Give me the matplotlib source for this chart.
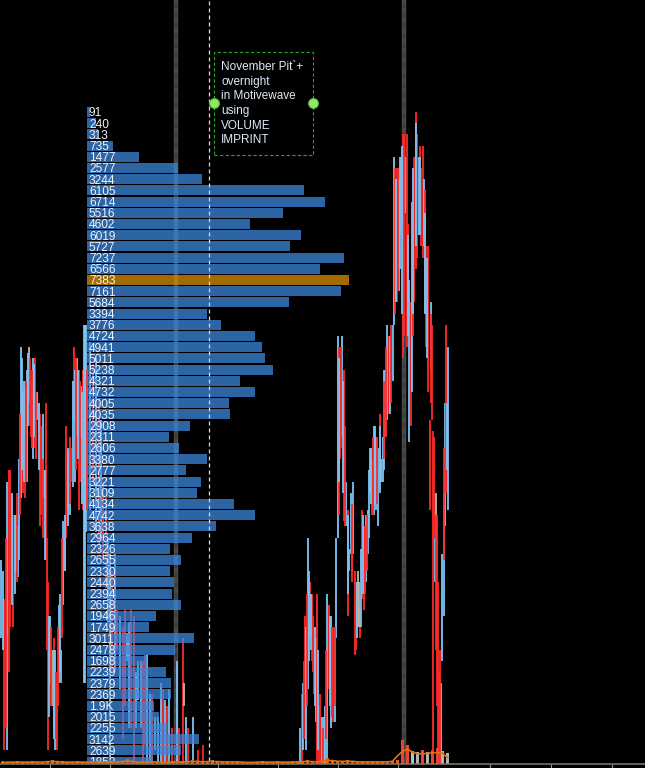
import numpy as np
import matplotlib
matplotlib.use("Agg")
import matplotlib.pyplot as plt
from matplotlib.patches import Rectangle

# -------------------------------------------------
# Volume imprint (profile), top price row first
# -------------------------------------------------
profile_vol = [91, 240, 313, 735, 1477, 2577, 3244, 6105, 6714, 5516,
               4602, 6019, 5727, 7237, 6566, 7383, 7161, 5684, 3394, 3776,
               4724, 4941, 5011, 5238, 4321, 4732, 4005, 4035, 2908, 2311,
               2606, 3380, 2777, 3221, 3109, 4134, 4742, 3638, 2964, 2326,
               2655, 2330, 2440, 2394, 2658, 1946, 1749, 3011, 2478, 1698,
               2239, 2379, 2369, 1900, 2015, 2255, 3142, 2639, 1852]
# rows where the platform shortens the number
profile_short = {53: "1.9K"}

# -------------------------------------------------
# Price bars, low..high in price rows (bottom row = 0)
# day session (pit)
# -------------------------------------------------
pit_x = [1, 4, 7, 10, 13, 16, 18, 19, 21, 23, 25, 27, 29, 31, 33, 35, 37, 38.5,
         40, 42.5, 44, 46, 48, 50, 52, 53.5, 55, 57, 59, 61, 63, 64.5, 66, 67.5,
         69.5, 71, 72.5, 74, 75, 77, 79, 81, 83, 83.7, 84.5, 85.5, 87, 90, 93,
         96, 99, 101, 103, 106, 108, 110, 112, 115, 117, 120, 122.5, 125, 127,
         128.5, 131, 133.5, 136, 138, 141, 143, 145, 147, 150, 152, 155, 158,
         161, 163, 165, 167, 169, 172, 177, 178.5, 182.5, 184, 186, 188, 192.5,
         198, 203,
         3, 5.5, 8.5, 11.5, 14.5, 17, 20, 22, 24, 26, 28, 30, 32, 34, 36, 39,
         41, 43, 45, 47, 49, 51, 54, 56, 58, 60, 62, 65, 68, 70, 73, 76, 78, 80, 82]
pit_low = [11, 1, 1, 12, 12, 17, 16.5, 18, 23.5, 24, 23.5, 25, 32, 29, 27, 28, 30.5, 28,
           21, 23.5, 23.5, 18, 1, 7, 5, 3, 1, 1, 7, 7, 14, 17, 20, 22.5,
           22, 25, 24.5, 30.5, 25, 29, 22.5, 29, 22.5, 7, 7, 20.5, 22.5, 22.5, 25,
           20.5, 18.5, 20, 18, 15.5, 12.5, -1, 8, 8, 10, 6.5, 2, 5, 9,
           3, 3, -1, 3, 5.5, 3, -1, 1.5, -1, -1, -1, 1, -1,
           -1, -1, -1, -1, -1, -1, -1, -1, -1, 5, -1, -1, -1,
           -1, -1,
           10, 3, 8, 14, 15, 16, 22, 26, 25, 25, 30, 30, 28, 29, 27, 26,
           22, 20, 18, 10, 4, 5, 2, 2, 5, 8, 11, 17, 21, 23, 27, 26, 27, 25, 23]
pit_high = [18, 14.5, 25, 26, 22, 22, 21, 27, 37, 33, 33.5, 35, 37, 34, 36, 36, 33, 32,
            31, 31, 26, 32, 16, 13, 10, 11, 10, 7, 14, 10, 21.5, 20, 30, 27.5,
            28, 28, 27, 37, 35, 36, 35, 33.5, 35, 39, 39, 39, 35, 37.5, 35.5,
            36, 32.5, 30.5, 25, 23.5, 20, 18.5, 17, 18.5, 13.5, 13, 12, 13.5, 11.5,
            12.5, 13.5, 13, 8, 9, 9, 9, 9.5, 9.5, 6, 6, 4, 4,
            7, 6.5, 5.5, 5, 6.5, 3, 9, 3, 11, 7, 4, 3, 4,
            1, 1.5,
            17, 20, 26, 24, 22, 24, 31, 36, 34, 34, 36.5, 36, 35, 35.5, 33, 32,
            30, 27, 26, 20, 13, 12, 10, 8, 12, 15, 20, 22, 28, 29, 34, 36, 35, 34, 33]
pit_side = ("brbrrbbbbrrbtrbrbrrbbrrbtrbrbbbrrrbrbrbbrbrbbbrbrbrbrrbtrbrbrrbbrrbbbrrbbrbbbrbrbrbrrtbrbrr"
            "brrbbrrbbrbrrbrbrrbrbrbrrbrbbrbrbrb")

# overnight session
globex_x = [302, 303, 305, 306, 308, 310, 312, 314, 316, 317, 319, 322, 324, 327,
            328.5, 331, 333, 334.5, 336, 337.5, 340, 342, 344, 346, 347.5, 349,
            350.5, 351.5, 353, 354.5, 358, 360, 362, 364, 366, 368, 370, 372, 374,
            376, 378, 379.5, 381, 382.5, 383.5, 385, 387, 388.5, 392.5, 394, 397,
            399, 401, 403, 405, 406.5, 407.5, 409, 410.5, 411.5, 414, 415.5, 417,
            418.5, 419.5, 421, 422.5, 423.5, 424.5, 426, 428, 429.5, 430.5, 432,
            433, 434, 434.5, 435.5, 437, 438, 439, 441, 442, 443.5, 445, 446, 447, 448,
            300, 304, 307, 309, 311, 313, 315, 318, 320, 323, 325, 326, 329.5, 332,
            335, 338.5, 339, 341, 343, 345, 348, 352, 356, 357, 359, 361, 363, 365,
            367, 369, 371, 373, 375, 377, 380, 384, 386, 389.5, 391, 395, 396, 398,
            400, 402, 404, 408, 412.5, 413, 416, 420, 425, 427, 431, 436, 440, 444]
globex_low = [-1, 1, 6, 1, 6.5, 11, 9, 6, 3.5, -1, -1, -1, -1, -1,
              6.5, 3, 3.5, 3.5, 11, 20, 27, 29, 21.5, 21, 13, 17,
              18.5, 16, 18.5, 9.5, 12, 11, 14.5, 13.5, 16, 18.5, 24, 22, 22,
              22.5, 21, 25, 25, 25, 26, 29, 30.5, 31, 34, 39, 41,
              42, 47, 36, 49, 37, 39, 28.5, 30, 33, 41, 44, 45,
              47, 47.5, 46, 45, 46, 40, 37, 33, 22.5, 35, 30.5,
              -1, 20, 16, 20, 5, -1, -1, -1, 9, 13, 21, 24, 26, 22.5,
              -1, 2, 5, 9, 10, 8, 5, 1, -1, -1, -1, 2, 5, 4,
              5, 22, 25, 28, 24, 21, 15, 17, 10, 11, 12, 12, 15, 15,
              17, 20, 23, 22, 23, 23, 24, 27, 29, 31, 32, 40, 41, 42,
              44, 40, 38, 38, 38, 40, 46, 47, 40, 36, 32, 10, -1, 18]
globex_high = [6, 7, 13, 12, 20, 16, 15, 12, 11, 15, 5, 4, 4, 15,
               14, 13, 12, 12, 20, 38, 35, 38, 35, 25, 22.5, 19,
               24, 21, 25, 17, 17, 14, 22.5, 21, 22, 22.5, 28, 27, 30,
               29, 28, 31, 27, 29, 35, 35, 39, 38, 39, 54, 53,
               52, 54, 56, 54, 56, 48, 43, 41, 50, 54, 58, 56,
               54, 55, 53, 55, 52, 51, 46, 46, 30.5, 41, 39,
               29.5, 29, 20, 24, 22, 16, 8, 7, 18.5, 24, 32, 39, 32, 37,
               3, 9, 15, 17, 15, 13, 12, 10, 6, 3, 5, 10, 13, 12,
               12, 37, 36, 37, 34, 30, 22, 23, 16, 16, 16, 19, 22, 21,
               22, 26, 28, 29, 30, 29, 30, 34, 37, 38, 39, 53, 52, 53,
               54, 55, 56, 47, 52, 53, 57, 54, 49, 45, 40, 22, 10, 28]
globex_side = ("rbrbbrrrbrrbbbrbrbbbrbrbrbbrbrtrrrbbbrbbbrtbbbbrbb"
               "rbrrbrrbrbrrrbrrrbrrrrbrrrbtrrrbbbbrbb"
               "brrbbrbbrrbrbrrrbrbrbrrbtbbrrbbrbrbrrbrrbrbbrbrbbbbbrrrr")

# -------------------------------------------------
# Volume histogram at the bottom (5-bar bins)
# -------------------------------------------------
bar_vol = [3, 2, 2, 3, 2, 2, 3, 2, 2, 3, 4, 2, 3, 2, 2, 3, 2, 2, 3, 2,
           2, 2, 3, 2, 3, 5, 3, 2, 2, 3, 2, 3, 2, 2, 3, 2, 3, 2, 4, 3,
           3, 2, 4, 3, 2, 3, 2, 3, 2, 2, 2, 2, 3, 2, 2, 3, 2, 2, 3, 2,
           3, 4, 3, 2, 3, 6, 4, 3, 3, 4, 3, 3, 2, 3, 2, 3, 2, 3, 3, 4,
           24, 19, 13, 12, 14, 12, 14, 16, 13, 11]
bar_vol_side = "rrbtrtrrtt"   # last (overnight) bins

time_ticks = [50, 110, 218, 278, 338, 398, 490, 551, 612]
session_lines = [176, 404]
cursor_line = 209

note_lines = ["November Pit`+", "overnight", "in Motivewave", "using", "VOLUME", "IMPRINT"]

side_col = {"r": "#ff2a2a", "b": "#7cc6f6", "t": "#c9b59c"}
W, H = 645, 768


def fx(x):
    return x / W


def fy(y):
    return 1 - y / H


n = len(profile_vol)
levels = np.arange(n)[::-1]
ylim = (-0.57, 68.0)

fig = plt.figure(figsize=(6.45, 7.68), dpi=100, facecolor="black")

# main price axes
ax = fig.add_axes([0, 0, 1, 1])
ax.set_facecolor("black")
ax.set_xlim(0, W)
ax.set_ylim(*ylim)
ax.axis("off")
for s in session_lines:
    ax.axvline(s, color="#484848", lw=3.2, zorder=1)
    ax.axvline(s, color="#383838", lw=1.2, dashes=(3, 3), zorder=1)
ax.vlines(pit_x + globex_x, pit_low + globex_low, pit_high + globex_high,
          colors=[side_col[c] for c in pit_side + globex_side], lw=1.3, zorder=2)

# profile axes
pax = fig.add_axes([0, 0, 1, 1], zorder=1)
pax.patch.set_alpha(0)
pax.set_xlim(-2452, 15724)
pax.set_ylim(*ylim)
pax.axis("off")
poc = int(np.argmax(profile_vol))
cols = ["#3d86dc"] * n
cols[poc] = "#d98e00"
pax.barh(levels, profile_vol, height=0.89, left=0, color=cols, alpha=0.75)
for i, v in enumerate(profile_vol):
    pax.text(56, levels[i] - 0.4, profile_short.get(i, str(v)), va="baseline",
             ha="left", color="#eef3fc", fontsize=8.6, family="Liberation Sans")

# overlay: cursor and note
tax = fig.add_axes([0, 0, 1, 1], zorder=2)
tax.patch.set_alpha(0)
tax.set_xlim(0, W)
tax.set_ylim(*ylim)
tax.axis("off")
tax.axvline(cursor_line, color="#d8d8d8", lw=0.9, dashes=(3.2, 2.4))
tax.add_patch(Rectangle((fx(214), fy(155)), fx(313) - fx(214), fy(52) - fy(155),
                        transform=tax.transAxes, fill=False, edgecolor="#22a822",
                        lw=0.8, linestyle=(0, (3, 2))))
tax.plot([fx(214), fx(313)], [fy(103), fy(103)], "o", transform=tax.transAxes,
         ms=7, mfc="#8ee86a", mec="#5cbf40", mew=0.8)
for k, line in enumerate(note_lines):
    tax.text(fx(221), fy(70 + 14.66 * k), line, transform=tax.transAxes,
             va="baseline", ha="left", color="#dde9f6", fontsize=8.5,
             family="Liberation Sans")

# black strip below the time axis
fig.add_artist(Rectangle((0, 0), 1, 4 / H, transform=fig.transFigure,
                         color="black", zorder=5))

# volume histogram + time axis
vax = fig.add_axes([0, 4 / H, 1, 26 / H], zorder=10)
vax.patch.set_alpha(0)
vax.set_xlim(0, W)
vax.set_ylim(0, 26)
vx = np.arange(len(bar_vol)) * 5 + 2.5
vcols = ["#e0601c"] * len(bar_vol)
for j, c in enumerate(bar_vol_side):
    vcols[len(bar_vol) - len(bar_vol_side) + j] = {"r": "#f04030", "b": "#9cc4dc", "t": "#b8b2aa"}[c]
vax.bar(vx, bar_vol, width=3.5, color=vcols)
avg = np.convolve(bar_vol, np.ones(3) / 3, mode="same")
vax.plot(vx, avg * 0.8, color="#e07010", lw=1.2)
for side in ["top", "left", "right"]:
    vax.spines[side].set_visible(False)
vax.spines["bottom"].set_color("#7d7d6e")
vax.spines["bottom"].set_linewidth(1.1)
vax.set_xticks(time_ticks)
vax.set_xticklabels([])
vax.set_yticks([])
vax.tick_params(axis="x", direction="out", length=3, width=0.8, color="#9a9a8a")

fig.savefig("out.png", dpi=100, facecolor="black")
